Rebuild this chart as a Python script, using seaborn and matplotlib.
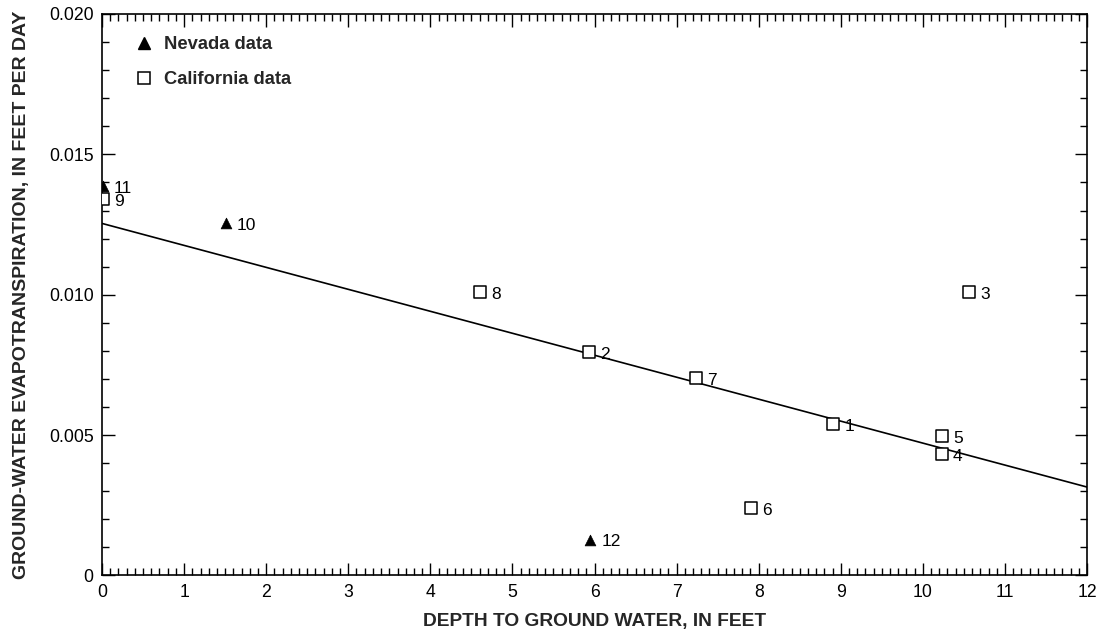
import matplotlib
matplotlib.use("Agg")
import matplotlib.pyplot as plt
from matplotlib.lines import Line2D
from matplotlib.ticker import MultipleLocator, FixedLocator
import seaborn as sns
import pandas as pd

# ---- data ----
nevada_ids = ["11", "10", "12"]
nevada_depth = [0.01, 1.51, 5.95]
nevada_et = [0.01386, 0.01254, 0.00128]

california_ids = ["1", "2", "3", "4", "5", "6", "7", "8", "9"]
california_depth = [8.91, 5.93, 10.56, 10.23, 10.23, 7.91, 7.24, 4.61, 0.01]
california_et = [0.00539, 0.00795, 0.01009, 0.00432, 0.00496, 0.0024, 0.00703, 0.01009, 0.0134]

fit_depth = [0.0, 12.0]
fit_et = [0.01254, 0.00315]

x_ticks = [0, 1, 2, 3, 4, 5, 6, 7, 8, 9, 10, 11, 12]
y_ticks = [0, 0.005, 0.010, 0.015, 0.020]
y_tick_labels = ["0", "0.005", "0.010", "0.015", "0.020"]

sns.set_theme(style="ticks")
plt.rcParams["font.family"] = ["Liberation Sans", "DejaVu Sans"]

nv = pd.DataFrame({"depth": nevada_depth, "et": nevada_et, "id": nevada_ids})
ca = pd.DataFrame({"depth": california_depth, "et": california_et, "id": california_ids})
fit = pd.DataFrame({"depth": fit_depth, "et": fit_et})

fig = plt.figure(figsize=(10.96, 6.39), dpi=100)
ax = fig.add_axes([0.0931, 0.0994, 0.8987, 0.8787])

sns.lineplot(data=fit, x="depth", y="et", ax=ax, color="black", linewidth=1.2, zorder=2)
sns.scatterplot(data=ca, x="depth", y="et", ax=ax, marker="s", s=65,
                facecolor="white", edgecolor="black", linewidth=1.1, zorder=3)
sns.scatterplot(data=nv, x="depth", y="et", ax=ax, marker="^", s=60,
                color="black", edgecolor="black", linewidth=0.5, zorder=3)

for df in (ca, nv):
    for _, r in df.iterrows():
        ax.annotate(r["id"], (r["depth"], r["et"]), xytext=(8, -0.5),
                    textcoords="offset points", ha="left", va="center_baseline",
                    fontsize=12.5, color="black", zorder=4)

ax.set_xlim(0, 12)
ax.set_ylim(0, 0.020)
ax.xaxis.set_major_locator(FixedLocator(x_ticks))
ax.xaxis.set_minor_locator(MultipleLocator(0.1))
ax.yaxis.set_major_locator(FixedLocator(y_ticks))
ax.set_yticklabels(y_tick_labels)
ax.yaxis.set_minor_locator(MultipleLocator(0.001))
ax.tick_params(which="both", direction="in", top=True, right=True, colors="black",
               labelsize=12.7, width=1.0)
ax.tick_params(which="major", length=9, pad=6)
ax.tick_params(which="minor", length=5)
for sp in ax.spines.values():
    sp.set_color("black")
    sp.set_linewidth(1.2)

ax.set_xlabel("DEPTH TO GROUND WATER, IN FEET", fontsize=13.8, fontweight="bold", labelpad=9)
ax.set_ylabel("GROUND-WATER EVAPOTRANSPIRATION, IN FEET PER DAY", fontsize=14,
              fontweight="bold", labelpad=14)

handles = [
    Line2D([], [], marker="^", linestyle="none", markersize=8, color="black",
           markerfacecolor="black"),
    Line2D([], [], marker="s", linestyle="none", markersize=8, color="black",
           markerfacecolor="white", markeredgewidth=1.1),
]
leg = ax.legend(handles, ["Nevada data", "California data"], loc="upper left",
                bbox_to_anchor=(0.015, 0.99), frameon=False, labelspacing=1.0,
                handletextpad=0.5, handlelength=1.2,
                prop={"weight": "bold", "size": 13.2})

fig.savefig("out.png", dpi=100)
